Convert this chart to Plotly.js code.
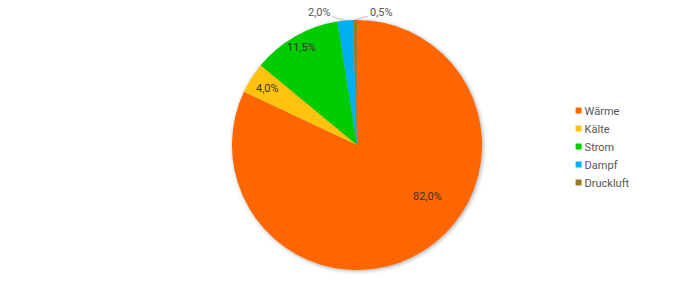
<!DOCTYPE html>
<html>
<head>
<meta charset="utf-8">
<script src="https://cdn.plot.ly/plotly-3.0.1.min.js"></script>
<style>
html,body{margin:0;padding:0;background:#fff;}
#chart{width:700px;height:283px;}
.pielayer{filter:drop-shadow(1px 1px 2px rgba(0,0,0,0.35));}
</style>
</head>
<body>
<div id="chart"></div>
<script>
var labels = ["Wärme", "Kälte", "Strom", "Dampf", "Druckluft"];
var values = [82.0, 4.0, 11.5, 2.0, 0.5];
var colors = ["#FF6600", "#FFC20E", "#00CC00", "#00B0F0", "#A07828"];
var insideText = [true, true, true, false, false];

var fontFam = "Roboto, 'Liberation Sans', sans-serif";
var total = values.reduce(function(a,b){return a+b;}, 0);

var traces = [{
  type: "pie",
  labels: labels,
  values: values,
  sort: false,
  direction: "clockwise",
  rotation: 0,
  marker: {colors: colors, line: {width: 0}},
  textinfo: "none",
  textposition: "none",
  showlegend: false,
  hoverinfo: "label+percent",
  domain: {x: [0.31, 0.71], y: [0, 1]}
}];

labels.forEach(function(l, i){
  traces.push({
    type: "scatter", mode: "markers", x: [null], y: [null],
    name: l, marker: {symbol: "square", size: 6, color: colors[i]},
    showlegend: true, hoverinfo: "skip"
  });
});

// label placement (layout only): radius fraction and optional angle for inside labels
var insideRadius = [0.7, 0.85, 0.9];
var insideAngleDeg = [126, null, null];

var W = 700, H = 283, mt = 20, mb = 13, ml = 0, mr = 0;
var plotH = H - mt - mb, plotW = W - ml - mr;
var cx = 357, cy = mt + plotH / 2, R = plotH / 2;
function toPaper(px, py){ return {x: (px - ml) / plotW, y: (H - mb - py) / plotH}; }

var cum = 0, annotations = [];
values.forEach(function(v, i){
  var mid = (cum + v / 2) / total;
  cum += v;
  var ang = mid * 2 * Math.PI;
  var txt = (v / total * 100).toFixed(1).replace(".", ",") + "%";
  if (insideText[i]) {
    if (insideAngleDeg[i] !== null && insideAngleDeg[i] !== undefined) ang = insideAngleDeg[i] * Math.PI / 180;
    var r = R * insideRadius[i];
    var p = toPaper(cx + r * Math.sin(ang), cy - r * Math.cos(ang));
    annotations.push({
      xref: "paper", yref: "paper", x: p.x, y: p.y, showarrow: false,
      xanchor: "center", yanchor: "middle",
      text: txt, font: {family: fontFam, size: 11, color: "#333"}
    });
  } else {
    var q = toPaper(cx + R * Math.sin(ang), cy - R * Math.cos(ang));
    var left = Math.sin(ang) < -0.05;
    annotations.push({
      xref: "paper", yref: "paper", x: q.x, y: q.y,
      text: txt, showarrow: true, arrowhead: 0, arrowwidth: 0.8, arrowcolor: "#aaa",
      ax: left ? -26 : 26, ay: -8, standoff: 0,
      font: {family: fontFam, size: 11, color: "#555"}
    });
  }
});

var layout = {
  width: W, height: H,
  margin: {l: ml, r: mr, t: mt, b: mb},
  paper_bgcolor: "#fff", plot_bgcolor: "rgba(0,0,0,0)",
  separators: ",.",
  xaxis: {visible: false, domain: [0.8, 0.81]},
  yaxis: {visible: false, domain: [0.4, 0.41]},
  showlegend: true,
  legend: {
    x: 0.798, y: 0.696, xanchor: "left", yanchor: "top",
    font: {family: fontFam, size: 11, color: "#555"},
    itemwidth: 30, tracegroupgap: 0, bgcolor: "rgba(0,0,0,0)"
  },
  annotations: annotations
};

Plotly.newPlot("chart", traces, layout, {displayModeBar: false, staticPlot: true}).then(function(gd){
  // tighten legend: smaller gap between swatch and text, 18px row spacing
  var items = gd.querySelectorAll(".legend .traces");
  var y0 = null;
  items.forEach(function(g, i){
    var m = /translate\(([-\d.]+),\s*([-\d.]+)\)/.exec(g.getAttribute("transform") || "");
    if (!m) return;
    if (y0 === null) y0 = parseFloat(m[2]);
    g.setAttribute("transform", "translate(" + m[1] + "," + (y0 + i * 18) + ")");
  });
  gd.querySelectorAll(".legend .legendtext").forEach(function(t){
    t.setAttribute("x", parseFloat(t.getAttribute("x")) - 14);
  });
});
</script>
</body>
</html>
